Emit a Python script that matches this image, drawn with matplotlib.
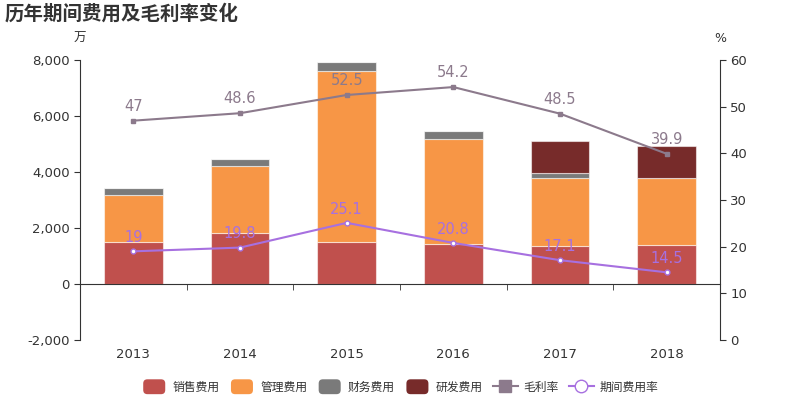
import matplotlib
matplotlib.use('Agg')
import matplotlib.pyplot as plt
import numpy as np
from matplotlib.patches import Patch, FancyBboxPatch
from matplotlib.lines import Line2D
from matplotlib.legend_handler import HandlerPatch
from matplotlib.ticker import FuncFormatter

plt.rcParams['font.family'] = ['DejaVu Sans', 'Noto Sans CJK SC']

# data (万元 / %)
years = ['2013', '2014', '2015', '2016', '2017', '2018']
sales = [1500, 1830, 1490, 1420, 1360, 1400]        # 销售费用
admin = [1680, 2385, 6130, 3760, 2430, 2390]        # 管理费用
finance = [250, 250, 300, 300, 180, 0]              # 财务费用
rnd = [0, 0, 0, 0, 1145, 1155]                      # 研发费用
gross_margin = [47, 48.6, 52.5, 54.2, 48.5, 39.9]   # 毛利率
period_rate = [19, 19.8, 25.1, 20.8, 17.1, 14.5]    # 期间费用率

C_SALES, C_ADMIN, C_FIN, C_RND = '#C0504D', '#F79646', '#7A7A7A', '#772B2A'
C_GM, C_PR = '#8C7A8C', '#A770E0'


class RoundHandler(HandlerPatch):
    '''legend swatch with rounded corners'''
    def create_artists(self, legend, orig, xd, yd, w, h, fontsize, trans):
        p = FancyBboxPatch((-xd + 1, -yd - 1), w - 2, h + 2,
                           boxstyle='round,pad=0,rounding_size=3',
                           fc=orig.get_facecolor(), ec='none', transform=trans)
        return [p]


fig = plt.figure(figsize=(8, 4), dpi=100)
ax = fig.add_axes([0.1, 0.15, 0.8, 0.7])
x = np.arange(len(years))
w = 0.55
edge = dict(edgecolor=(1, 1, 1, 0.55), linewidth=0.8)

b = np.zeros(len(years))
for vals, col in [(sales, C_SALES), (admin, C_ADMIN), (finance, C_FIN), (rnd, C_RND)]:
    ax.bar(x, vals, w, bottom=b, color=col, zorder=2, **edge)
    b += np.array(vals)

ax.set_xlim(-0.5, len(years) - 0.5)
ax.set_ylim(-2000, 8000)
ax.set_yticks(range(-2000, 8001, 2000))
ax.yaxis.set_major_formatter(FuncFormatter(lambda v, p: f'{int(v):,}'))
ax.spines['top'].set_visible(False)
ax.spines['right'].set_visible(False)
ax.spines['bottom'].set_position(('data', 0))
ax.spines['left'].set_color('#333333')
ax.spines['bottom'].set_color('#333333')
ax.set_xticks(x)
ax.set_xticklabels(years)
ax.set_xticks(x[:-1] + 0.5, minor=True)
ax.tick_params(axis='x', which='major', length=0, pad=46, labelsize=9.5, colors='#333333')
ax.tick_params(axis='x', which='minor', length=4, direction='out', color='#333333')
ax.tick_params(axis='y', labelsize=9.5, colors='#333333', length=4, color='#333333')

ax2 = ax.twinx()
ax2.set_ylim(0, 60)
ax2.set_yticks(range(0, 61, 10))
for s in ['top', 'left', 'bottom']:
    ax2.spines[s].set_visible(False)
ax2.spines['right'].set_color('#333333')
ax2.tick_params(axis='y', labelsize=9.5, colors='#333333', length=4, color='#333333')

ax2.plot(x, gross_margin, color=C_GM, lw=1.5, marker='s', ms=3.5, zorder=3)
ax2.plot(x, period_rate, color=C_PR, lw=1.5, marker='o', ms=3.5,
         mfc='white', mec=C_PR, mew=1, zorder=3)
for xi, v in zip(x, gross_margin):
    ax2.annotate(f'{v:g}', (xi, v), xytext=(0, 5), textcoords='offset points',
                 ha='center', va='bottom', fontsize=10.5, color=C_GM)
for xi, v in zip(x, period_rate):
    ax2.annotate(f'{v:g}', (xi, v), xytext=(0, 4.5), textcoords='offset points',
                 ha='center', va='bottom', fontsize=10.5, color=C_PR)

fig.text(0.006, 0.965, '历年期间费用及毛利率变化', fontsize=14, fontweight='bold',
         color='#333333', va='center', ha='left')
fig.text(0.1, 0.903, '万', fontsize=9, color='#333333', ha='center', va='center')
fig.text(0.9, 0.903, '%', fontsize=9, color='#333333', ha='center', va='center')

handles = [Patch(color=C_SALES, label='销售费用'), Patch(color=C_ADMIN, label='管理费用'),
           Patch(color=C_FIN, label='财务费用'), Patch(color=C_RND, label='研发费用'),
           Line2D([], [], color=C_GM, lw=1.5, marker='s', ms=8, label='毛利率'),
           Line2D([], [], color=C_PR, lw=1.5, marker='o', ms=9, mfc='white', mec=C_PR,
                  label='期间费用率')]
fig.legend(handles=handles, loc='center', bbox_to_anchor=(0.5, 0.032), ncol=6,
           frameon=False, fontsize=8.5, handlelength=2.1, handleheight=1.2,
           columnspacing=0.85, handletextpad=0.5, labelcolor='#333333',
           handler_map={Patch: RoundHandler()})

fig.savefig('out.png', dpi=100)
